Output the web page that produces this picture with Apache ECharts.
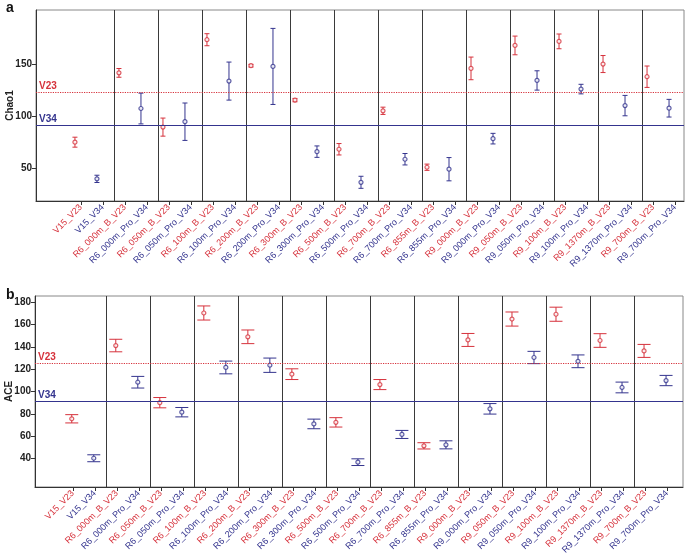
<!DOCTYPE html>
<html><head><meta charset="utf-8">
<script src="https://cdn.jsdelivr.net/npm/echarts@6/dist/echarts.min.js"></script>
<style>html,body{margin:0;padding:0;background:#fff}#c{width:685px;height:559px}</style>
</head><body><div id="c"></div>
<script>
const categories = ['V15_V23','V15_V34','R6_000m_B_V23','R6_000m_Pro_V34','R6_050m_B_V23','R6_050m_Pro_V34',
  'R6_100m_B_V23','R6_100m_Pro_V34','R6_200m_B_V23','R6_200m_Pro_V34','R6_300m_B_V23','R6_300m_Pro_V34',
  'R6_500m_B_V23','R6_500m_Pro_V34','R6_700m_B_V23','R6_700m_Pro_V34','R6_855m_B_V23','R6_855m_Pro_V34',
  'R9_000m_B_V23','R9_000m_Pro_V34','R9_050m_B_V23','R9_050m_Pro_V34','R9_100m_B_V23','R9_100m_Pro_V34',
  'R9_1370m_B_V23','R9_1370m_Pro_V34','R9_700m_B_V23','R9_700m_Pro_V34'];
const chao1Mean = [74.8,39.5,141.5,107.2,89.3,94.5,173.4,133.6,148.4,147.7,115.3,65.7,68.0,36.2,105.0,58.4,50.7,48.8,145.8,78.2,167.9,134.2,171.8,125.9,150.0,110.0,137.8,107.5];
const chao1Err  = [4.8,3.5,4.2,14.8,8.7,18.0,5.8,18.3,1.3,36.6,1.6,5.5,5.5,5.8,3.5,5.5,3.0,11.2,10.9,5.1,9.0,9.3,7.1,4.6,8.2,9.8,10.3,8.5];
const aceMean = [75.6,40.3,141.1,108.3,90.0,81.5,170.2,121.5,148.9,123.5,115.5,71.0,72.4,36.8,106.2,61.6,51.4,52.3,146.1,84.5,164.8,130.4,169.1,127.0,145.6,103.6,136.3,109.8];
const aceErr  = [3.7,3.1,5.6,5.2,4.6,4.2,6.3,5.7,6.1,6.4,4.8,4.3,4.2,3.0,4.5,3.6,2.8,3.6,5.8,4.7,6.3,5.5,6.3,5.7,6.1,4.8,5.8,4.6];
const refNames = ['V23','V34'];
const chao1Ref = [123, 91.5];
const aceRef = [125, 91.3];
const chao1Ticks = [50,100,150];
const aceTicks = [40,60,80,100,120,140,160,180];

const RED = '#d6323c', BLUE = '#34348e';
const FONT = '"Liberation Sans", Arial, sans-serif';

function errRender(capHalf){
  return function(params, api){
    const x = api.value(0), lo = api.value(1), hi = api.value(2), grp = api.value(3);
    const p1 = api.coord([x, hi]), p2 = api.coord([x, lo]);
    const style = {stroke: grp === 0 ? RED : BLUE, lineWidth: 1};
    return {type:'group', children:[
      {type:'line', shape:{x1:p1[0],y1:p1[1],x2:p2[0],y2:p2[1]}, style},
      {type:'line', shape:{x1:p1[0]-capHalf,y1:p1[1],x2:p1[0]+capHalf,y2:p1[1]}, style},
      {type:'line', shape:{x1:p2[0]-capHalf,y1:p2[1],x2:p2[0]+capHalf,y2:p2[1]}, style}
    ]};
  };
}

function panelSeries(idx, mean, err, ref, off, capHalf){
  const v23 = [], v34 = [], eb = [];
  mean.forEach((m,i)=>{
    (i%2===0 ? v23 : v34).push([i, m]);
    eb.push([i, m-err[i], m+err[i], i%2]);
  });
  const seps = [];
  for (let k=0;k<13;k++) seps.push({xAxis: 2*k+1.5+off});
  return [
    {type:'scatter', xAxisIndex:idx, yAxisIndex:idx, data:[], silent:true,
     markLine:{silent:true, symbol:'none', animation:false,
       lineStyle:{color:'#3a3a3a', width:1, type:'solid'}, label:{show:false},
       data: seps}},
    {type:'scatter', xAxisIndex:idx, yAxisIndex:idx, data:[], silent:true,
     markLine:{silent:true, symbol:'none', animation:false,
       data:[
         {yAxis: ref[0], lineStyle:{color:RED, width:1.2, type:'dotted'},
          label:{show:true, formatter:refNames[0], position:'insideStartTop', color:RED, fontSize:10, fontWeight:'bold', fontFamily:FONT, distance:[3,1]}},
         {yAxis: ref[1], lineStyle:{color:BLUE, width:1.2, type:'solid'},
          label:{show:true, formatter:refNames[1], position:'insideStartTop', color:BLUE, fontSize:10, fontWeight:'bold', fontFamily:FONT, distance:[3,1]}}
       ]}},
    {type:'custom', xAxisIndex:idx, yAxisIndex:idx, renderItem: errRender(capHalf),
     encode:{x:0, y:[1,2]}, data: eb, z:3},
    {type:'scatter', xAxisIndex:idx, yAxisIndex:idx, data:v23, symbol:'circle', symbolSize:4,
     itemStyle:{color:'#fff', borderColor:RED, borderWidth:1.2}, z:4},
    {type:'scatter', xAxisIndex:idx, yAxisIndex:idx, data:v34, symbol:'circle', symbolSize:4,
     itemStyle:{color:'#fff', borderColor:BLUE, borderWidth:1.2}, z:4}
  ];
}

function xAxisFor(idx, min, max, off){
  const vals = categories.map((c,i)=>i+off);
  return {type:'value', gridIndex:idx, min:min, max:max,
    splitLine:{show:false},
    axisLine:{show:true, onZero:false, lineStyle:{color:'#333', width:1}},
    axisTick:{show:true, customValues: vals, length:4, lineStyle:{color:'#333'}},
    axisLabel:{show:true, customValues: vals, rotate:45, margin:5, hideOverlap:false,
      formatter: v => { const i = Math.round(v - off); return (i%2===0 ? '{r|' : '{b|') + categories[i] + '}'; },
      rich:{ r:{color:RED, fontSize:9, fontFamily:FONT}, b:{color:BLUE, fontSize:9, fontFamily:FONT} }
    }
  };
}

function yAxisFor(idx, min, max, ticks, name){
  return {type:'value', gridIndex:idx, min:min, max:max, name:name,
    nameLocation:'middle', nameGap:21, nameRotate:90, nameMoveOverlap:false,
    nameTextStyle:{fontSize:10, fontWeight:'bold', color:'#222', fontFamily:FONT},
    splitLine:{show:false},
    axisLine:{show:true, onZero:false, lineStyle:{color:'#333'}},
    axisTick:{show:true, customValues:ticks, length:4, lineStyle:{color:'#333'}},
    axisLabel:{customValues:ticks, fontSize:10, fontWeight:'bold', color:'#222', fontFamily:FONT, margin:4}
  };
}

const offA = 0.27, offB = 0.05;
const chart = echarts.init(document.getElementById('c'), null, {renderer:'canvas'});
chart.setOption({
  animation:false,
  backgroundColor:'#fff',
  title:[
    {text:'a', left:1, top:-4, textStyle:{fontSize:14, fontWeight:'bold', color:'#111', fontFamily:FONT}},
    {text:'b', left:1, top:283, textStyle:{fontSize:14, fontWeight:'bold', color:'#111', fontFamily:FONT}}
  ],
  grid:[
    {left:36, top:10, width:648, height:191, show:true, borderColor:'#888', borderWidth:1, containLabel:false, outerBoundsMode:'none'},
    {left:35, top:296, width:648, height:191, show:true, borderColor:'#888', borderWidth:1, containLabel:false, outerBoundsMode:'none'}
  ],
  xAxis:[ xAxisFor(0, -1.77, 27.68, offA), xAxisFor(1, -1.67, 27.77, offB) ],
  yAxis:[ yAxisFor(0, 18.2, 202, chao1Ticks, 'Chao1'), yAxisFor(1, 14.6, 185.4, aceTicks, 'ACE') ],
  series:[].concat(
    panelSeries(0, chao1Mean, chao1Err, chao1Ref, offA, 2.5),
    panelSeries(1, aceMean, aceErr, aceRef, offB, 6.5)
  )
});
</script></body></html>
